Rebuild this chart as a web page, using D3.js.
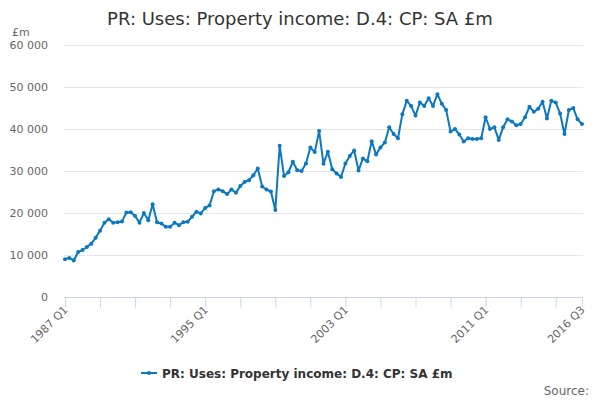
<!DOCTYPE html>
<html>
<head>
<meta charset="utf-8">
<script src="https://cdn.jsdelivr.net/npm/d3@7"></script>
<style>
  body { margin: 0; background: #fff; }
  svg { font-family: "DejaVu Sans", sans-serif; }
</style>
</head>
<body>
<svg id="chart" width="600" height="400"></svg>
<script>
// Quarterly series, 1987 Q1 .. 2016 Q3
const startYear = 1987;
const quarterCount = 119;

const values = [
  9000, 9300, 8700, 10700, 11200, 11900, 12700, 14100, 15800, 17700,
  18500, 17700, 17800, 18000, 20100, 20200, 19300, 17700, 20000, 18300,
  22100, 17800, 17500, 16700, 16700, 17700, 17100, 17800, 17900, 19100,
  20300, 19900, 21200, 21800, 25200, 25600, 25200, 24500, 25600, 24800,
  26400, 27400, 27800, 29000, 30600, 26300, 25600, 25100, 20700, 36000,
  28800, 29700, 32200, 30200, 30000, 31800, 35600, 34500, 39500, 31700,
  34600, 30400, 29400, 28600, 31800, 33600, 34900, 30100, 33000, 32300,
  37100, 33900, 35600, 36800, 40400, 38800, 37800, 43500, 46700, 45500,
  43200, 46300, 45500, 47300, 45500, 48300, 46000, 44500, 39400, 40000,
  38700, 37000, 37800, 37600, 37600, 37800, 42800, 40000, 40400, 37400,
  40400, 42300, 41800, 40900, 41200, 42800, 45300, 44100, 44800, 46500,
  42500, 46700, 46300, 43700, 38800, 44500, 45000, 42300, 41200
];

const yTicks = [0, 10000, 20000, 30000, 40000, 50000, 60000];
const labelledQuarters = ["1987 Q1", "1995 Q1", "2003 Q1", "2011 Q1", "2016 Q3"];

const title = "PR: Uses: Property income: D.4: CP: SA £m";
const seriesName = "PR: Uses: Property income: D.4: CP: SA £m";

const quarters = d3.range(quarterCount).map(
  (i) => `${startYear + Math.floor(i / 4)} Q${(i % 4) + 1}`
);
const data = quarters.map((q, i) => ({ q, i, v: values[i] }));

// //////////////////////////////////////////////////////////////////////////
// Layout
const plot = { left: 64, right: 582, top: 45, bottom: 297 };
const lineColor = "#0b78c0";

const svg = d3.select("#chart");

const x = d3.scaleLinear()
  .domain([0, quarterCount - 1])
  .range([plot.left + 1, plot.right]);

const y = d3.scaleLinear()
  .domain([0, 60000])
  .range([plot.bottom, plot.top]);

const fmt = (d) => d3.format(",")(d).replace(/,/g, " ");

// title
svg.append("text")
  .attr("x", 300)
  .attr("y", 25)
  .attr("text-anchor", "middle")
  .attr("fill", "#333")
  .style("font-size", "18px")
  .text(title);

// units label
svg.append("text")
  .attr("x", 12)
  .attr("y", 36)
  .attr("fill", "#666")
  .style("font-size", "11px")
  .text("£m");

// gridlines
svg.append("g")
  .selectAll("line")
  .data(yTicks.filter((d) => d > 0))
  .join("line")
  .attr("x1", plot.left)
  .attr("x2", plot.right + 1)
  .attr("y1", (d) => Math.round(y(d)) + 0.5)
  .attr("y2", (d) => Math.round(y(d)) + 0.5)
  .attr("stroke", "#e6e6e6");

// y axis labels
svg.append("g")
  .selectAll("text")
  .data(yTicks)
  .join("text")
  .attr("x", 48)
  .attr("y", (d) => y(d) + 4)
  .attr("text-anchor", "end")
  .attr("fill", "#666")
  .style("font-size", "11px")
  .text(fmt);

// x axis
const tickIdx = d3.range(0, quarterCount, 8).concat([quarterCount - 1]);
const xAxis = d3.axisBottom(x)
  .tickValues(tickIdx)
  .tickSize(10)
  .tickFormat((i) => (labelledQuarters.includes(quarters[i]) ? quarters[i] : ""));

const gx = svg.append("g")
  .attr("transform", `translate(0,${plot.bottom + 0.5})`)
  .call(xAxis);

gx.select(".domain")
  .attr("stroke", "#ccd6eb")
  .attr("d", `M${plot.left},0H${plot.right + 1}`);
gx.selectAll(".tick line").attr("stroke", "#ccd6eb");
gx.selectAll(".tick text")
  .attr("fill", "#666")
  .style("font-size", "11px")
  .style("font-family", "DejaVu Sans, sans-serif")
  .attr("text-anchor", "end")
  .attr("dy", null)
  .attr("y", 0)
  .attr("transform", "translate(3,13) rotate(-45)");

// series line
const line = d3.line()
  .x((d) => x(d.i))
  .y((d) => y(d.v));

svg.append("path")
  .datum(data)
  .attr("fill", "none")
  .attr("stroke", lineColor)
  .attr("stroke-width", 2)
  .attr("stroke-linejoin", "round")
  .attr("d", line);

svg.append("g")
  .selectAll("circle")
  .data(data)
  .join("circle")
  .attr("cx", (d) => x(d.i))
  .attr("cy", (d) => y(d.v))
  .attr("r", 2)
  .attr("fill", lineColor);

// legend
const legend = svg.append("g").attr("transform", "translate(141,373)");
legend.append("line")
  .attr("x1", 0).attr("x2", 16)
  .attr("y1", 0).attr("y2", 0)
  .attr("stroke", lineColor)
  .attr("stroke-width", 2);
legend.append("circle")
  .attr("cx", 8).attr("cy", 0).attr("r", 2)
  .attr("fill", lineColor);
legend.append("text")
  .attr("x", 21)
  .attr("y", 4.5)
  .attr("fill", "#333")
  .style("font-size", "12px")
  .style("font-weight", "bold")
  .text(seriesName);

// source
svg.append("text")
  .attr("x", 589)
  .attr("y", 395)
  .attr("text-anchor", "end")
  .attr("fill", "#666")
  .style("font-size", "12px")
  .text("Source:");
</script>
</body>
</html>
